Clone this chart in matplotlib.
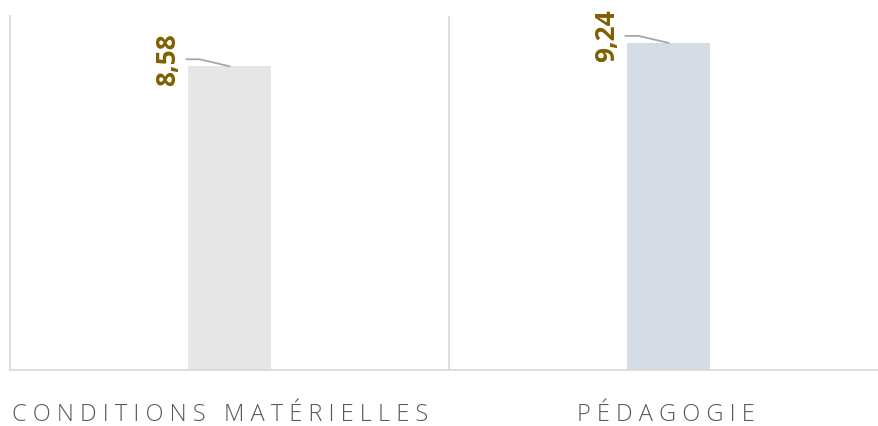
import matplotlib.pyplot as plt
import matplotlib.transforms as mtransforms

categories = ["CONDITIONS MATÉRIELLES", "PÉDAGOGIE"]
values = [8.58, 9.24]
labels = ["8,58", "9,24"]
bar_colors = ["#E7E6E6", "#D6DCE5"]


def spaced(s):
    # emulate the wide letter spacing of the original tick labels
    return "   ".join(" ".join(w) for w in s.split(" "))


W, H = 879, 426
fig = plt.figure(figsize=(W/100, H/100), dpi=100)
ax = fig.add_axes([10/W, 56/H, 869/W, 354/H])

x = list(range(len(categories)))
ax.bar(x, values, width=0.187, color=bar_colors, zorder=2)
ax.set_ylim(0, 10)
ax.set_xlim(-0.5, -0.5 + 869/439)

for s in ["top", "right"]:
    ax.spines[s].set_visible(False)
for s in ["left", "bottom"]:
    ax.spines[s].set_color("#D9D9D9")
    ax.spines[s].set_linewidth(1.3)
ax.axvline(0.5, color="#D9D9D9", lw=1.3, zorder=1)

ax.set_yticks([])
ax.set_xticks(x)
ax.set_xticklabels([spaced(c) for c in categories], fontsize=17, color="#595959",
                   family="Open Sans", fontweight="light")
ax.tick_params(axis="x", length=0, pad=24)
shifts = [-9, -3]  # pixel offsets of the category labels
for t, dx in zip(ax.get_xticklabels(), shifts):
    t.set_transform(t.get_transform() + mtransforms.ScaledTranslation(dx/100, 0, fig.dpi_scale_trans))

# data labels with leader lines
px = 1/439.0
py = 10/354.0
for xi, v, lab in zip(x, values, labels):
    lx = xi - 62*px
    ly = v + 7*py
    ax.text(lx, ly, lab, rotation=90, ha="center", va="center",
            fontsize=19, fontweight="bold", color="#7F6000",
            family="Open Sans")
    ax.plot([xi - 43*px, xi - 30*px, xi], [v + 7*py, v + 7*py, v],
            color="#A6A6A6", lw=1.3, zorder=3, clip_on=False)

fig.savefig("out.png", dpi=100)
